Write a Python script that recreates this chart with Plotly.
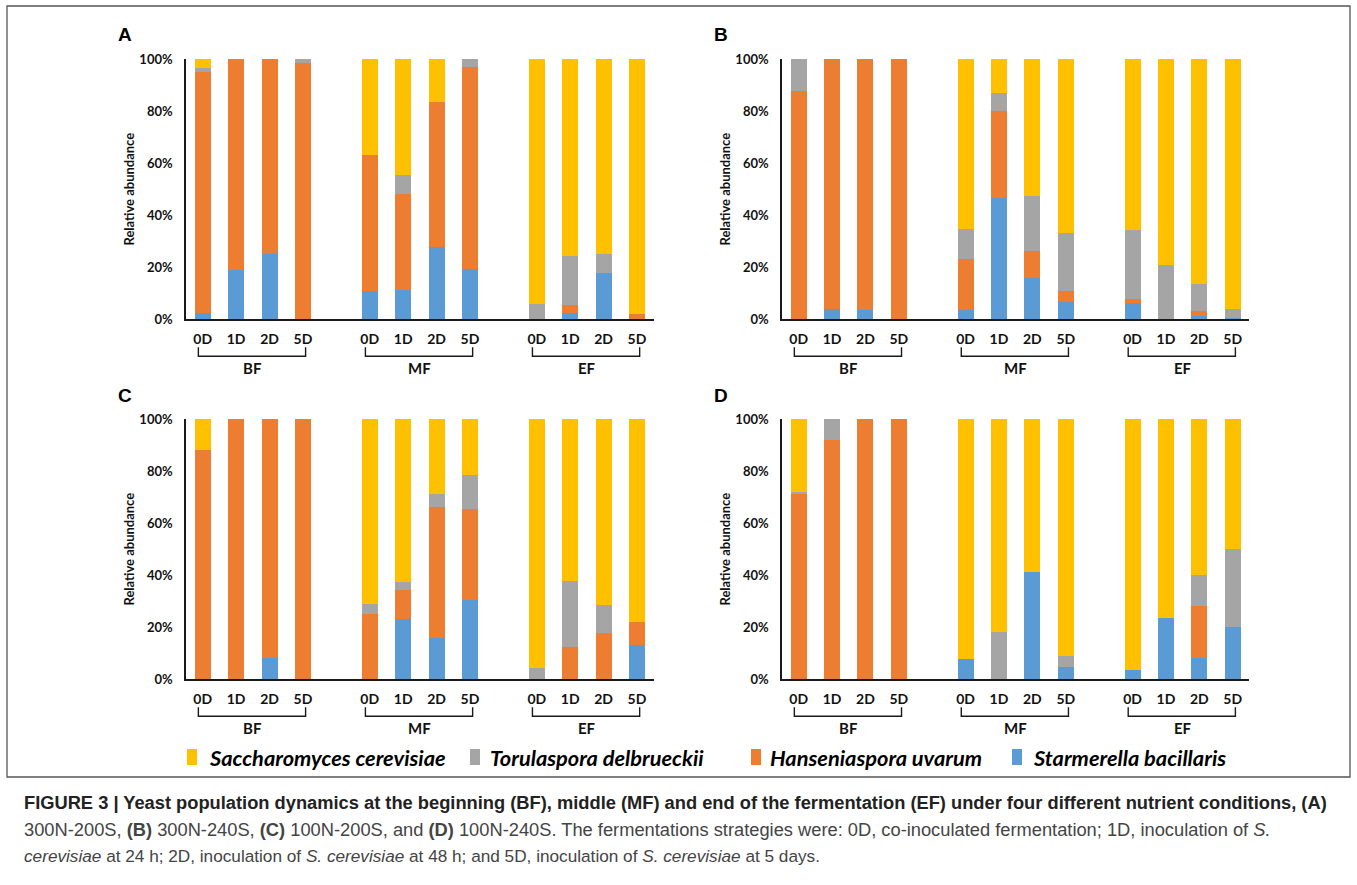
import plotly.graph_objects as go

# ---------------- data (relative abundance, %) ----------------
groups = ["BF", "MF", "EF"]
strategies = ["0D", "1D", "2D", "5D"]
species = ["Saccharomyces cerevisiae", "Torulaspora delbrueckii",
           "Hanseniaspora uvarum", "Starmerella bacillaris"]
panel_letters = ["A", "B", "C", "D"]

# order of bars in every list: BF 0D,1D,2D,5D | MF 0D,1D,2D,5D | EF 0D,1D,2D,5D
a_starmerella = [2.3, 19.0, 25.1, 0, 10.9, 11.1, 27.7, 19.2, 0, 2.4, 17.8, 0]
a_hanseniaspora = [92.8, 81.0, 74.9, 98.6, 52.2, 37.2, 55.8, 77.9, 0, 3.1, 0, 2.0]
a_torulaspora = [1.4, 0, 0, 1.4, 0, 7.3, 0, 2.9, 5.9, 19.0, 7.3, 0]
a_saccharomyces = [3.5, 0, 0, 0, 36.9, 44.4, 16.5, 0, 94.1, 75.5, 74.9, 98.0]

b_starmerella = [0, 4.0, 3.5, 0, 3.7, 46.7, 15.7, 6.7, 6.1, 0, 1.4, 0.6]
b_hanseniaspora = [87.6, 96.0, 96.5, 100, 19.3, 33.3, 10.5, 4.3, 1.8, 0, 1.8, 0]
b_torulaspora = [12.4, 0, 0, 0, 11.6, 6.8, 21.3, 22.3, 26.4, 21.0, 10.4, 3.4]
b_saccharomyces = [0, 0, 0, 0, 65.4, 13.2, 52.5, 66.7, 65.7, 79.0, 86.4, 96.0]

c_starmerella = [0, 0, 8.1, 0, 0, 23.0, 15.9, 30.6, 0, 0, 0, 13.1]
c_hanseniaspora = [88.1, 100, 91.9, 100, 25.2, 11.4, 50.2, 34.8, 0, 12.5, 17.9, 8.8]
c_torulaspora = [0, 0, 0, 0, 3.9, 2.9, 5.2, 13.0, 4.2, 25.1, 10.8, 0]
c_saccharomyces = [11.9, 0, 0, 0, 70.9, 62.7, 28.7, 21.6, 95.8, 62.4, 71.3, 78.1]

d_starmerella = [0, 0, 0, 0, 7.7, 0, 41.4, 4.7, 3.6, 23.7, 8.1, 20.1]
d_hanseniaspora = [71.4, 91.9, 100, 100, 0, 0, 0, 0, 0, 0, 20.1, 0]
d_torulaspora = [0.5, 8.1, 0, 0, 0, 18.3, 0, 4.4, 0, 0, 12.0, 30.1]
d_saccharomyces = [28.1, 0, 0, 0, 92.3, 81.7, 58.6, 90.9, 96.4, 76.3, 59.8, 49.8]

y_ticks = [0, 20, 40, 60, 80, 100]
y_tick_labels = ["0%", "20%", "40%", "60%", "80%", "100%"]

panels = [
    {"Starmerella bacillaris": a_starmerella, "Hanseniaspora uvarum": a_hanseniaspora,
     "Torulaspora delbrueckii": a_torulaspora, "Saccharomyces cerevisiae": a_saccharomyces},
    {"Starmerella bacillaris": b_starmerella, "Hanseniaspora uvarum": b_hanseniaspora,
     "Torulaspora delbrueckii": b_torulaspora, "Saccharomyces cerevisiae": b_saccharomyces},
    {"Starmerella bacillaris": c_starmerella, "Hanseniaspora uvarum": c_hanseniaspora,
     "Torulaspora delbrueckii": c_torulaspora, "Saccharomyces cerevisiae": c_saccharomyces},
    {"Starmerella bacillaris": d_starmerella, "Hanseniaspora uvarum": d_hanseniaspora,
     "Torulaspora delbrueckii": d_torulaspora, "Saccharomyces cerevisiae": d_saccharomyces},
]

colors = {
    "Saccharomyces cerevisiae": "#FFC000",
    "Torulaspora delbrueckii": "#A5A5A5",
    "Hanseniaspora uvarum": "#ED7D31",
    "Starmerella bacillaris": "#5B9BD5",
}
stack_order = ["Starmerella bacillaris", "Hanseniaspora uvarum",
               "Torulaspora delbrueckii", "Saccharomyces cerevisiae"]

# ---------------- layout helpers ----------------
W, H = 1357, 885
def px(x):
    return x / W
def py(y):
    return 1 - y / H

slot = len(strategies) + 1
xs = [g * slot + i for g in range(len(groups)) for i in range(len(strategies))]
tick_text = [s for _ in groups for s in strategies]

LABEL_FONT = "Lato, 'Open Sans', sans-serif"

# panel geometry in pixels: (left, right, top(100%), bottom(0%))
geoms = [
    (186, 653.7, 59, 319.3),
    (782, 1249.4, 59, 319.3),
    (186, 653.7, 419, 679.3),
    (782, 1249.4, 419, 679.3),
]

fig = go.Figure()
layout = {}
shapes = []
annotations = []

for k, (data, geom) in enumerate(zip(panels, geoms)):
    sfx = "" if k == 0 else str(k + 1)
    xa, ya = "x" + sfx, "y" + sfx
    for sp in stack_order:
        fig.add_trace(go.Bar(
            x=xs, y=data[sp], name=sp, xaxis=xa, yaxis=ya,
            marker=dict(color=colors[sp], line=dict(width=0)),
            width=0.48, showlegend=False,
        ))
    left, right, top, bottom = geom
    layout["xaxis" + sfx] = dict(
        domain=[px(left), px(right)], anchor=ya,
        range=[-0.5, xs[-1] + 0.5], tickvals=xs, ticktext=tick_text,
        showline=True, linecolor="#1a1a1a", linewidth=1.5,
        showgrid=False, zeroline=False, ticks="", ticklabelstandoff=6,
        tickfont=dict(family=LABEL_FONT, size=14, color="#111", weight="bold"),
        fixedrange=True, automargin=False,
    )
    layout["yaxis" + sfx] = dict(
        domain=[py(bottom), py(top)], anchor=xa,
        range=[0, 100], tickvals=y_ticks, ticktext=y_tick_labels,
        showline=True, linecolor="#1a1a1a", linewidth=1.5,
        showgrid=False, zeroline=False, ticks="", ticklabelstandoff=9,
        tickfont=dict(family=LABEL_FONT, size=13, color="#111", weight="bold"),
        title=dict(text="<b>Relative abundance</b>", standoff=2,
                   font=dict(family=LABEL_FONT, size=13, color="#111")),
        fixedrange=True, automargin=False,
    )
    # brackets under the groups and group labels
    b_top = py(bottom + 28)
    b_bot = py(bottom + 37)
    for g, gname in enumerate(groups):
        x0 = g * slot - 0.13
        x1 = g * slot + len(strategies) - 1 + 0.08
        shapes.append(dict(
            type="path", xref=xa, yref="paper",
            path=f"M {x0},{b_top} L {x0},{b_bot} L {x1},{b_bot} L {x1},{b_top}",
            line=dict(color="#1a1a1a", width=1.4),
        ))
        annotations.append(dict(
            x=g * slot + (len(strategies) - 1) / 2, xref=xa,
            y=py(bottom + 49), yref="paper",
            text=f"<b>{gname}</b>", showarrow=False,
            xanchor="center", yanchor="middle",
            font=dict(family=LABEL_FONT, size=15, color="#111"),
        ))
    # panel letter
    annotations.append(dict(
        x=px(left - 61), y=py(top - 24), xref="paper", yref="paper",
        text=f"<b>{panel_letters[k]}</b>", showarrow=False,
        xanchor="center", yanchor="middle",
        font=dict(family="'Liberation Sans', Arial, sans-serif", size=19, color="#000"),
    ))

# legend drawn as key rectangles + labels
legend_items = [
    ("Saccharomyces cerevisiae", 187, 207),
    ("Torulaspora delbrueckii", 470, 488),
    ("Hanseniaspora uvarum", 751, 768),
    ("Starmerella bacillaris", 1012, 1031),
]
for name, kx, tx in legend_items:
    shapes.append(dict(
        type="rect", xref="paper", yref="paper",
        x0=px(kx), x1=px(kx + 10), y0=py(765), y1=py(749),
        fillcolor=colors[name], line=dict(width=0),
    ))
    annotations.append(dict(
        x=px(tx), y=py(757), xref="paper", yref="paper",
        text=f"<b><i>{name}</i></b>", showarrow=False,
        xanchor="left", yanchor="middle",
        font=dict(family=LABEL_FONT, size=21.8, color="#000"),
    ))

# frame around the figure
shapes.append(dict(
    type="rect", xref="paper", yref="paper",
    x0=px(7), x1=px(1350), y0=py(777), y1=py(6),
    line=dict(color="#555", width=1.3), fillcolor="rgba(0,0,0,0)",
))

# caption
CAP_FONT = "'Liberation Sans', Arial, sans-serif"
caption_lines = [
    ("<b>FIGURE 3 | Yeast population dynamics at the beginning (BF), middle (MF) and end of the "
     "fermentation (EF) under four different nutrient conditions, (A)</b>", "#222", 802, 18.3),
    ("300N-200S, <b>(B)</b> 300N-240S, <b>(C)</b> 100N-200S, and <b>(D)</b> 100N-240S. The "
     "fermentations strategies were: 0D, co-inoculated fermentation; 1D, inoculation of <i>S.</i>",
     "#444", 829, 18.3),
    ("<i>cerevisiae</i> at 24 h; 2D, inoculation of <i>S. cerevisiae</i> at 48 h; and 5D, "
     "inoculation of <i>S. cerevisiae</i> at 5 days.", "#444", 856, 17.2),
]
for text, col, yc, fs in caption_lines:
    annotations.append(dict(
        x=px(22), y=py(yc), xref="paper", yref="paper",
        text=text, showarrow=False, xanchor="left", yanchor="middle",
        font=dict(family=CAP_FONT, size=fs, color=col),
    ))

fig.update_layout(
    width=W, height=H,
    margin=dict(l=0, r=0, t=0, b=0),
    paper_bgcolor="white", plot_bgcolor="white",
    barmode="stack", bargap=0,
    shapes=shapes, annotations=annotations,
    **layout,
)

fig.write_html(
    "out.html",
    config={"displayModeBar": False},
    post_script="document.body.style.margin='0px';document.body.style.overflow='hidden';",
)
